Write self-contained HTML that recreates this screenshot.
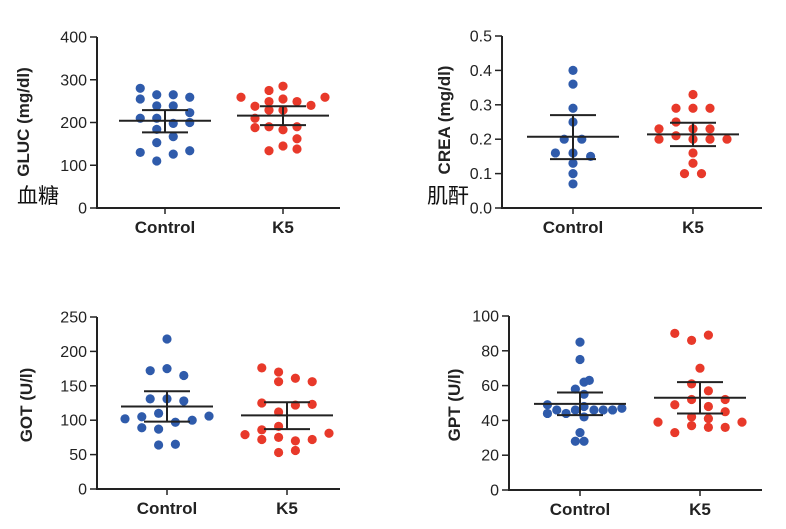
<!DOCTYPE html>
<html><head><meta charset="utf-8"><style>
html,body{margin:0;padding:0;background:#fff;width:786px;height:529px;overflow:hidden}
svg{display:block}
text{font-family:"Liberation Sans",Arial,sans-serif;fill:#222}
.cjk{font-family:"Liberation Sans","Noto Sans CJK SC",sans-serif;fill:#111}
</style></head><body>
<svg id="chart" width="786" height="529" viewBox="0 0 786 529">
<text class="cjk" x="17" y="203" font-size="21">血糖</text>
<text class="cjk" x="427" y="203" font-size="21">肌酐</text>
</svg>
<script>
// ---- data ----
const categories = ["Control", "K5"];
// GLUC
const glucTicks = [0,100,200,300,400];
const glucCtrlVals = [280,255,265,265,259,239,239,210,210,223,198,200,184,167,153,130,126,134,110];
const glucCtrlCols = [-1.5,-1.5,-0.5,0.5,1.5,-0.5,0.5,-1.5,-0.5,1.5,0.5,1.5,-0.5,0.5,-0.5,-1.5,0.5,1.5,-0.5];
const glucK5Vals = [259,238,275,249,285,255,249,240,259,210,229,229,188,190,183,190,162,134,145,138];
const glucK5Cols = [-3,-2,-1,-1,0,0,1,2,3,-2,-1,0,-2,-1,0,1,1,-1,0,1];
const glucMean = [204,216], glucHi = [229,238], glucLo = [177,194];
// CREA
const creaTicks = [0.0,0.1,0.2,0.3,0.4,0.5];
const creaCtrlVals = [0.40,0.36,0.29,0.25,0.20,0.20,0.16,0.16,0.15,0.13,0.10,0.07];
const creaCtrlCols = [0,0,0,0,-1,1,-2,0,2,0,0,0];
const creaK5Vals = [0.33,0.29,0.29,0.29,0.25,0.23,0.23,0.23,0.20,0.21,0.20,0.20,0.20,0.16,0.13,0.10,0.10];
const creaK5Cols = [0,-1,0,1,-1,-2,0,1,-2,-1,0,1,2,0,0,-0.5,0.5];
const creaMean = [0.207,0.214], creaHi = [0.27,0.248], creaLo = [0.142,0.180];
// GOT
const gotTicks = [0,50,100,150,200,250];
const gotCtrlVals = [218,172,175,165,131,131,128,102,105,110,97,100,106,89,87,64,65];
const gotCtrlCols = [0,-2,0,2,-2,0,2,-5,-3,-1,1,3,5,-3,-1,-1,1];
const gotK5Vals = [176,170,156,161,156,125,112,122,123,79,86,91,72,75,70,72,81,53,56];
const gotK5Cols = [-3,-1,-1,1,3,-3,-1,1,3,-5,-3,-1,-3,-1,1,3,5,-1,1];
const gotMean = [120,107], gotHi = [142,126], gotLo = [98,87];
// GPT
const gptTicks = [0,20,40,60,80,100];
const gptCtrlVals = [85,75,62,63,58,55,49,46,44,44,46,48,46,46,46,47,42,33,28,28];
const gptCtrlCols = [0,0,1.3,3,-1.5,1.3,-10.5,-7.5,-10.5,-4.5,-1.5,1.3,4.5,7.5,10.5,13.5,1.3,0,-1.5,1.3];
const gptK5Vals = [90,86,89,70,61,57,49,52,52,48,45,42,41,39,39,37,36,36,33];
const gptK5Cols = [-3,-1,1,0,-1,1,-3,-1,3,1,3,-1,1,-5,5,-1,1,3,-3];
const gptMean = [49.5,53], gptHi = [56,62], gptLo = [43,44];

const NS = "http://www.w3.org/2000/svg";
const svg = document.getElementById('chart');
function mk(tag, attrs, parent){const e=document.createElementNS(NS,tag);for(const k in attrs)e.setAttribute(k,attrs[k]);(parent||svg).appendChild(e);return e;}

function panel(cfg){
  const g = mk('g',{});
  
  
  const ticks = cfg.ticks, max = ticks[ticks.length-1];
  const y = v => cfg.y0 - (v/max)*(cfg.y0-cfg.yTop);
  const xC = i => cfg.cx[i];
  const ya = mk('line',{x1:cfg.ax,y1:cfg.yTop,x2:cfg.ax,y2:cfg.y0,stroke:'#222','stroke-width':2},g);
  
  
  const xa = mk('line',{x1:cfg.ax-1,y1:cfg.y0,x2:cfg.xEnd,y2:cfg.y0,stroke:'#222','stroke-width':2},g);
  
  
  ticks.forEach(t=>{
    mk('line',{x1:cfg.ax-7,y1:y(t),x2:cfg.ax,y2:y(t),stroke:'#222','stroke-width':1.5},g);
    const tx = mk('text',{x:cfg.ax-10,y:y(t)+5.5,'font-size':16,'text-anchor':'end'},g);
    tx.textContent = cfg.fmt(t);
    
    
  });
  categories.forEach((c,i)=>{
    mk('line',{x1:xC(i),y1:cfg.y0,x2:xC(i),y2:cfg.y0+6,stroke:'#222','stroke-width':1.5},g);
    const tx = mk('text',{x:xC(i),y:cfg.y0+25,'font-size':17,'font-weight':'bold','text-anchor':'middle'},g);
    tx.textContent = c;
    
    
  });
  const yl = mk('text',{x:0,y:0,'font-size':17,'font-weight':'bold','text-anchor':'middle',transform:`translate(${cfg.lx},${cfg.ly}) rotate(-90)`},g);
  yl.textContent = cfg.title;
  
  
  const series = [[cfg.cVals,cfg.cCols,'#2f5bab',0],[cfg.kVals,cfg.kCols,'#e8392a',1]];
  series.forEach(([vals,cols,col,i])=>{
    vals.forEach((v,j)=>{
      const d = mk('circle',{cx:xC(i)+cols[j]*cfg.unit[i],cy:y(v),r:4.6,fill:col},g);
      
      
    });
  });
  categories.forEach((c,i)=>{
    const m = mk('line',{x1:xC(i)-46,y1:y(cfg.mean[i]),x2:xC(i)+46,y2:y(cfg.mean[i]),stroke:'#222','stroke-width':2},g);
    
    
    const e = mk('path',{d:`M${xC(i)},${y(cfg.hi[i])}V${y(cfg.lo[i])}M${xC(i)-23},${y(cfg.hi[i])}H${xC(i)+23}M${xC(i)-23},${y(cfg.lo[i])}H${xC(i)+23}`,stroke:'#222','stroke-width':2,fill:'none'},g);
    
    
  });
}
const f0 = t=>String(t), f1 = t=>t.toFixed(1);
panel({name:'gluc',ticks:glucTicks,fmt:f0,ax:97,yTop:37,y0:208,xEnd:340,cx:[165,283],unit:[16.5,14],lx:29,ly:122,title:'GLUC (mg/dl)',
  cVals:glucCtrlVals,cCols:glucCtrlCols,kVals:glucK5Vals,kCols:glucK5Cols,mean:glucMean,hi:glucHi,lo:glucLo});
panel({name:'crea',ticks:creaTicks,fmt:f1,ax:502,yTop:36,y0:208,xEnd:762,cx:[573,693],unit:[8.8,17],lx:450,ly:120,title:'CREA (mg/dl)',
  cVals:creaCtrlVals,cCols:creaCtrlCols,kVals:creaK5Vals,kCols:creaK5Cols,mean:creaMean,hi:creaHi,lo:creaLo});
panel({name:'got',ticks:gotTicks,fmt:f0,ax:97,yTop:317,y0:489,xEnd:340,cx:[167,287],unit:[8.4,8.4],lx:32,ly:405,title:'GOT (U/l)',
  cVals:gotCtrlVals,cCols:gotCtrlCols,kVals:gotK5Vals,kCols:gotK5Cols,mean:gotMean,hi:gotHi,lo:gotLo});
panel({name:'gpt',ticks:gptTicks,fmt:f0,ax:509,yTop:316,y0:490,xEnd:762,cx:[580,700],unit:[3.1,8.4],lx:460,ly:405,title:'GPT (U/l)',
  cVals:gptCtrlVals,cCols:gptCtrlCols,kVals:gptK5Vals,kCols:gptK5Cols,mean:gptMean,hi:gptHi,lo:gptLo});
</script>
</body></html>
